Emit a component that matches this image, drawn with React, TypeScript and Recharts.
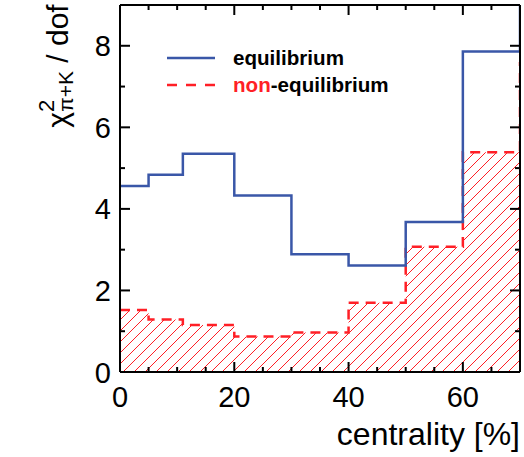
import React from 'react';
import { ComposedChart, Line, Area, XAxis, YAxis, Legend, Label } from 'recharts';

const FONT = '"Liberation Sans", Arial, Helvetica, sans-serif';
const BLUE = '#3a57a8';
const RED = '#ff1f26';

// bin lower edges (centrality %), last edge = 70 with value of the next (off-range) bin
const binEdges = [0, 5, 11, 20, 30, 40, 50, 60, 70];
const equilibrium = [4.56, 4.84, 5.35, 4.33, 2.89, 2.61, 3.68, 7.86, 10.5];
const nonEquilibrium = [1.52, 1.29, 1.15, 0.87, 0.97, 1.7, 3.07, 5.39, 7.6];

const xTicks = [0, 5, 10, 15, 20, 25, 30, 35, 40, 45, 50, 55, 60, 65];
const xTickLabels = [0, 20, 40, 60];
const yTicks = [0, 1, 2, 3, 4, 5, 6, 7, 8];
const yTickLabels = [0, 2, 4, 6, 8];

const data = binEdges.map((x, i) => ({ x, eq: equilibrium[i], neq: nonEquilibrium[i] }));

const BottomTick = (props: any) => {
  const { x, y, payload } = props;
  const major = xTickLabels.includes(payload.value);
  return (
    <g>
      <line x1={x} y1={y} x2={x} y2={y - (major ? 10 : 5)} stroke="#000" strokeWidth={2} />
      {major && (
        <text x={x} y={y + 35} textAnchor="middle" fontSize={29} fill="#000" fontFamily={FONT}>
          {payload.value}
        </text>
      )}
    </g>
  );
};

const TopTick = (props: any) => {
  const { x, y, payload } = props;
  const major = xTickLabels.includes(payload.value);
  return <line x1={x} y1={y} x2={x} y2={y + (major ? 10 : 5)} stroke="#000" strokeWidth={2} />;
};

const LeftTick = (props: any) => {
  const { x, y, payload } = props;
  const major = yTickLabels.includes(payload.value);
  return (
    <g>
      <line x1={x} y1={y} x2={x + (major ? 10 : 5)} y2={y} stroke="#000" strokeWidth={2} />
      {major && (
        <text x={x - 9} y={y + 10.5} textAnchor="end" fontSize={29} fill="#000" fontFamily={FONT}>
          {payload.value}
        </text>
      )}
    </g>
  );
};

const RightTick = (props: any) => {
  const { x, y, payload } = props;
  const major = yTickLabels.includes(payload.value);
  return <line x1={x} y1={y} x2={x - (major ? 10 : 5)} y2={y} stroke="#000" strokeWidth={2} />;
};

const YTitle = () => (
  <text
    transform="translate(68, 66) rotate(-90)"
    textAnchor="middle"
    fontFamily={FONT}
    fontSize={30}
    fill="#000"
  >
    <tspan>χ</tspan>
    <tspan fontSize={22} dy={-14}>2</tspan>
    <tspan fontSize={21} dx={-12.2} dy={19}>π+K</tspan>
    <tspan dy={-5}> / dof</tspan>
  </text>
);

const XTitle = () => (
  <text x={520} y={445} textAnchor="end" fontFamily={FONT} fontSize={32} fill="#000">
    centrality [%]
  </text>
);

const LegendContent = () => (
  <svg width={524} height={457} style={{ display: 'block' }}>
    <line x1={167} y1={58} x2={215} y2={58} stroke={BLUE} strokeWidth={2.5} />
    <text x={233} y={65} fontFamily={FONT} fontWeight="bold" fontSize={20.6} fill="#000">
      equilibrium
    </text>
    <line x1={167} y1={85} x2={215} y2={85} stroke={RED} strokeWidth={2.5} strokeDasharray="10 9" />
    <text x={233} y={92} fontFamily={FONT} fontWeight="bold" fontSize={20.6} fill="#000">
      <tspan fill={RED}>non</tspan>
      <tspan>-equilibrium</tspan>
    </text>
  </svg>
);

export default function App() {
  return (
    <div style={{ position: 'absolute', left: 0, top: 0, width: 524, height: 457, background: '#fff' }}>
      <svg width={0} height={0} style={{ position: 'absolute' }}>
        <defs>
          <pattern id="hatch" patternUnits="userSpaceOnUse" width={11} height={11}>
            <path d="M0,11 L11,0 M-2,2 L2,-2 M9,13 L13,9" stroke={RED} strokeWidth={1} />
          </pattern>
        </defs>
      </svg>
      <ComposedChart
        width={524}
        height={457}
        data={data}
        margin={{ top: 4, right: 3, bottom: 0, left: 0 }}
        style={{ fontFamily: FONT }}
      >
        <XAxis
          xAxisId="b"
          dataKey="x"
          type="number"
          domain={[0, 70]}
          allowDataOverflow
          ticks={xTicks}
          interval={0}
          tick={<BottomTick />}
          tickLine={false}
          tickSize={0}
          tickMargin={0}
          height={85}
          axisLine={{ stroke: '#000', strokeWidth: 2 }}
        >
          <Label content={<XTitle />} />
        </XAxis>
        <XAxis
          xAxisId="t"
          orientation="top"
          dataKey="x"
          type="number"
          domain={[0, 70]}
          allowDataOverflow
          ticks={xTicks}
          interval={0}
          tick={<TopTick />}
          tickLine={false}
          tickSize={0}
          tickMargin={0}
          height={1}
          axisLine={{ stroke: '#000', strokeWidth: 2 }}
        />
        <YAxis
          yAxisId="l"
          type="number"
          domain={[0, 9]}
          allowDataOverflow
          ticks={yTicks}
          interval={0}
          tick={<LeftTick />}
          tickLine={false}
          tickSize={0}
          tickMargin={0}
          width={120}
          axisLine={{ stroke: '#000', strokeWidth: 2 }}
        >
          <Label content={<YTitle />} />
        </YAxis>
        <YAxis
          yAxisId="r"
          orientation="right"
          type="number"
          domain={[0, 9]}
          allowDataOverflow
          ticks={yTicks}
          interval={0}
          tick={<RightTick />}
          tickLine={false}
          tickSize={0}
          tickMargin={0}
          width={1}
          axisLine={{ stroke: '#000', strokeWidth: 2 }}
        />
        <Area
          xAxisId="b"
          yAxisId="l"
          dataKey="neq"
          type="stepAfter"
          stroke={RED}
          strokeWidth={2.5}
          strokeDasharray="10 7"
          fill="url(#hatch)"
          fillOpacity={1}
          isAnimationActive={false}
          dot={false}
          activeDot={false}
        />
        <Line
          xAxisId="t"
          yAxisId="r"
          dataKey="eq"
          type="stepAfter"
          stroke={BLUE}
          strokeWidth={2.5}
          dot={false}
          activeDot={false}
          isAnimationActive={false}
        />
        <Legend
          layout="horizontal"
          verticalAlign="middle"
          align="center"
          wrapperStyle={{ left: 0, top: 0, width: 524, height: 457, pointerEvents: 'none' }}
          content={<LegendContent />}
        />
      </ComposedChart>
    </div>
  );
}
